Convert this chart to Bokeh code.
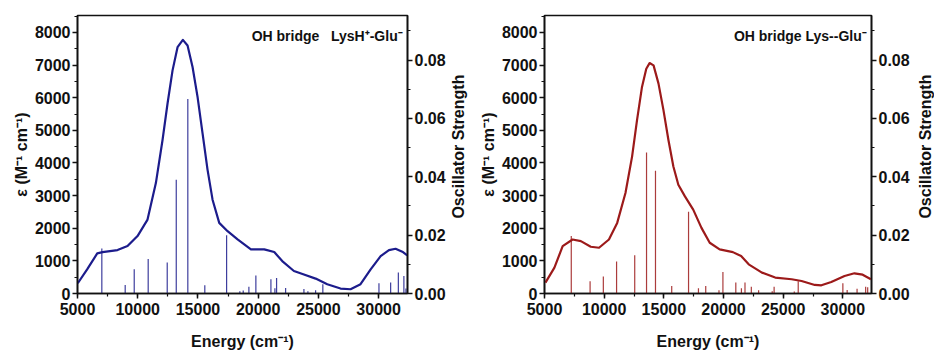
import math
from bokeh.plotting import figure
from bokeh.models import Range1d, LinearAxis, FixedTicker, Label, CustomJSTickFormatter
from bokeh.layouts import row
from bokeh.embed import file_html
from bokeh.resources import INLINE

# ---------------- data: left panel (OH bridge LysH+-Glu-) ----------------
left_curve_E = [5025, 5800, 6640, 7077, 8323, 9154, 9984, 10815, 11507, 12061, 12476,
                12892, 13307, 13750, 14138, 14553, 14968, 15384, 15799, 16214, 16768,
                17461, 18292, 19400, 20506, 21337, 22000, 22970, 23800, 24770, 25740,
                26840, 27670, 28500, 29340, 30170, 30860, 31410, 31970, 32380]
left_curve_eps = [314, 741, 1229, 1270, 1332, 1454, 1760, 2265, 3384, 4704, 5823,
                  6838, 7550, 7774, 7601, 6940, 6025, 4909, 3790, 2875, 2164,
                  1910, 1656, 1351, 1351, 1270, 994, 690, 580, 457, 284,
                  152, 131, 284, 741, 1146, 1330, 1372, 1280, 1168]
left_stick_E = [7020, 8960, 9710, 10870, 12450, 13200, 14160, 15570, 17380, 18480,
                18760, 19230, 19810, 21060, 21390, 21530, 22280, 23800, 24130, 24770,
                25370, 30030, 31000, 31640, 32100, 32270]
left_stick_f = [0.0154, 0.0029, 0.0083, 0.0118, 0.0106, 0.0390, 0.0667, 0.0028, 0.0200, 0.0008,
                0.0010, 0.0023, 0.0062, 0.0049, 0.0018, 0.0053, 0.0019, 0.0015, 0.0008, 0.0011,
                0.0032, 0.0035, 0.0038, 0.0072, 0.0060, 0.0017]

# ---------------- data: right panel (OH bridge Lys--Glu-) ----------------
right_curve_E = [5080, 5831, 6523, 7354, 8046, 8877, 9569, 10400, 11092, 11784, 12338,
                 12753, 13169, 13529, 13805, 14138, 14553, 14968, 15384, 15799, 16214,
                 16768, 17461, 18153, 18845, 19676, 20783, 21476, 22110, 23220, 24330,
                 25710, 26540, 27650, 28200, 29030, 30140, 30970, 31660, 32350]
right_curve_eps = [335, 793, 1451, 1655, 1604, 1433, 1402, 1655, 2164, 3079, 4195,
                   5314, 6330, 6890, 7062, 6991, 6433, 5619, 4704, 3890, 3332,
                   2976, 2570, 2012, 1555, 1351, 1268, 1146, 893, 640, 488,
                   436, 384, 262, 252, 354, 537, 619, 576, 436]
right_stick_E = [7243, 8820, 9930, 11040, 12560, 13550, 14300, 15660, 17070, 17900,
                 18510, 19620, 19950, 21030, 21500, 21800, 22330, 22940, 24080, 24240,
                 25930, 26260, 30000, 30360, 31190, 31910, 32080]
right_stick_f = [0.0197, 0.0042, 0.0058, 0.0110, 0.0131, 0.0483, 0.0421, 0.0026, 0.0280, 0.0018,
                 0.0026, 0.0011, 0.0074, 0.0038, 0.0018, 0.0038, 0.0023, 0.0011, 0.0008, 0.0023,
                 0.0007, 0.0042, 0.0035, 0.0012, 0.0016, 0.0023, 0.0021]

x_ticks = [5000, 10000, 15000, 20000, 25000, 30000]
y_ticks = [0, 1000, 2000, 3000, 4000, 5000, 6000, 7000, 8000]
f_ticks = [0.0, 0.02, 0.04, 0.06, 0.08]

FONT = "Liberation Sans"


def style_axis(ax, label):
    ax.axis_label = label
    ax.axis_label_text_font = FONT
    ax.axis_label_text_font_style = "bold"
    ax.axis_label_text_font_size = "16px"
    ax.axis_label_text_color = "#111111"
    ax.major_label_text_font = FONT
    ax.major_label_text_font_style = "bold"
    ax.major_label_text_font_size = "16px"
    ax.major_label_text_color = "#111111"
    ax.axis_line_width = 1.6
    ax.axis_line_color = "#111111"
    ax.major_tick_line_color = "#111111"
    ax.minor_tick_line_color = "#111111"
    ax.major_tick_line_width = 1.5
    ax.minor_tick_line_width = 1.2
    ax.major_tick_out = 5
    ax.major_tick_in = 0
    ax.minor_tick_out = 3
    ax.minor_tick_in = 0
    ax.major_label_standoff = 2
    ax.axis_label_standoff = 2


def make_panel(curve_E, curve_eps, stick_E, stick_f, color, title, border_left, border_right, width):
    p = figure(width=width, height=352, output_backend="svg", toolbar_location=None,
               x_range=Range1d(5000, 32400), y_range=Range1d(0, 8520),
               min_border_left=border_left, min_border_right=border_right,
               min_border_top=15, min_border_bottom=58)
    p.extra_y_ranges = {"osc": Range1d(0, 0.0953)}
    p.grid.visible = False
    p.outline_line_color = "#111111"
    p.outline_line_width = 1.6
    p.background_fill_color = "white"
    p.border_fill_color = "white"

    p.xaxis.ticker = FixedTicker(ticks=x_ticks, minor_ticks=list(range(5000, 32500, 2500)))
    p.yaxis.ticker = FixedTicker(ticks=y_ticks, minor_ticks=list(range(0, 8600, 500)))
    style_axis(p.xaxis[0], "Energy (cm\u207b\u00b9)")
    style_axis(p.yaxis[0], "\u03b5 (M\u207b\u00b9 cm\u207b\u00b9)")
    p.xaxis[0].major_label_standoff = 4
    p.xaxis[0].axis_label_standoff = 15

    rax = LinearAxis(y_range_name="osc",
                     ticker=FixedTicker(ticks=f_ticks, minor_ticks=[i / 100 for i in range(0, 10)]))
    rax.formatter = CustomJSTickFormatter(code="return tick.toFixed(2);")
    style_axis(rax, None)
    rax.axis_label = None
    rax.major_label_standoff = 2
    p.add_layout(rax, "right")

    p.segment(x0=stick_E, y0=[0] * len(stick_E), x1=stick_E, y1=stick_f,
              y_range_name="osc", line_color=color, line_width=1.2, line_alpha=0.85)
    p.line(curve_E, curve_eps, line_color=color, line_width=2.2, line_join="round")

    p.add_layout(Label(x=32000, y=7900, text=title, text_align="right", text_baseline="middle",
                       text_font=FONT, text_font_style="bold", text_font_size="14px",
                       text_color="#111111"))
    return p


def make_side_label(width, text, cx, cy_from_top):
    s = figure(width=width, height=352, output_backend="svg", toolbar_location=None,
               x_range=Range1d(0, width), y_range=Range1d(0, 352),
               x_axis_type=None, y_axis_type=None, min_border=0)
    s.grid.visible = False
    s.outline_line_color = None
    s.background_fill_color = "white"
    s.border_fill_color = "white"
    s.add_layout(Label(x=cx, y=352 - cy_from_top, text=text, angle=math.pi / 2,
                       text_align="center", text_baseline="middle",
                       text_font=FONT, text_font_style="bold", text_font_size="16px",
                       text_color="#111111"))
    return s


left = make_panel(left_curve_E, left_curve_eps, left_stick_E, left_stick_f, "#1c1c8c",
                  "OH bridge\u00a0\u00a0\u00a0LysH\u207a-Glu\u207b", 77, 41, 448)
left_lab = make_side_label(22, "Oscillator Strength", 10, 166)
right = make_panel(right_curve_E, right_curve_eps, right_stick_E, right_stick_f, "#9c1a1a",
                   "OH bridge Lys--Glu\u207b", 74, 38, 442)
right_lab = make_side_label(22, "Oscillator Strength", 13, 166)

layout = row(left, left_lab, right, right_lab, spacing=0)
open("out.html", "w").write(file_html(layout, INLINE))
